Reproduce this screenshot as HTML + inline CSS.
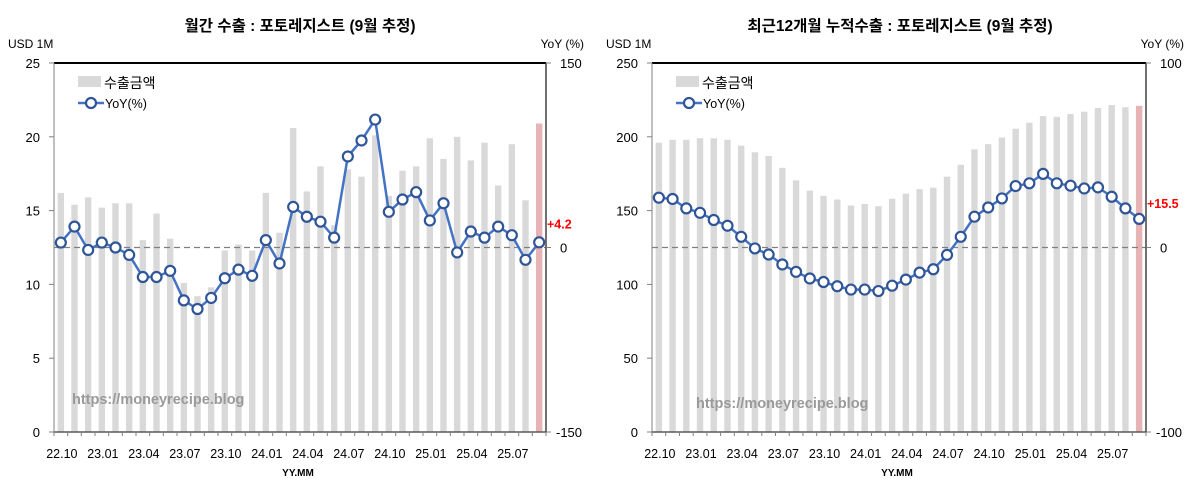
<!DOCTYPE html>
<html><head><meta charset="utf-8">
<style>
body{margin:0;background:#fff;}
svg text{font-family:"Liberation Sans","Noto Sans CJK KR",sans-serif;}
</style></head>
<body>
<svg id="chart" width="1200" height="499" viewBox="0 0 1200 499" xmlns="http://www.w3.org/2000/svg"></svg>
<script>
const months = ["22.10","22.11","22.12","23.01","23.02","23.03","23.04","23.05","23.06","23.07","23.08","23.09","23.10","23.11","23.12","24.01","24.02","24.03","24.04","24.05","24.06","24.07","24.08","24.09","24.10","24.11","24.12","25.01","25.02","25.03","25.04","25.05","25.06","25.07","25.08","25.09"];
const xTickLabels = ["22.10","23.01","23.04","23.07","23.10","24.01","24.04","24.07","24.10","25.01","25.04","25.07"];
const monthlyExport = [16.2,15.4,15.9,15.2,15.5,15.5,13.0,14.8,13.1,10.1,9.2,9.8,12.3,12.7,12.3,16.2,13.5,20.6,16.3,18.0,14.0,17.8,17.3,20.1,16.0,17.7,18.0,19.9,18.5,20.0,18.4,19.6,16.7,19.5,15.7,20.9];
const monthlyYoY = [4,17,-2,4,0,-6,-24,-24,-19,-43,-50,-41,-25,-18,-23,6,-13,33,25,21,8,74,87,104,29,39,45,22,36,-4,13,8,17,10,-10,4.2];
const cumExport = [196,198,198,199,199,198,194,189.5,187,179,170.5,163.5,160,157.5,153.5,154.5,153,158,161.5,164.5,165.5,173,181,191.5,195,199.5,205.5,209.5,214,213.5,215.5,217,219.5,221.5,220,221];
const cumYoY = [27,26.3,21.2,18.8,14.9,11.8,5.8,-0.5,-3.8,-9.2,-13.2,-16.8,-18.7,-21,-22.8,-22.8,-23.6,-20.7,-17.4,-13.6,-11.8,-4,5.8,16.7,21.7,26.6,33.3,34.8,39.9,34.8,33.5,32,32.6,27.5,21.2,15.5];
const leftTicksA = [0,5,10,15,20,25];
const rightTicksA = [-150,0,150];
const leftTicksB = [0,50,100,150,200,250];
const rightTicksB = [-100,0,100];

const svg = document.getElementById('chart');
const NS = 'http://www.w3.org/2000/svg';
function mk(tag, attrs, parent, text){
  const e = document.createElementNS(NS, tag);
  for (const k in attrs) e.setAttribute(k, attrs[k]);
  if (text !== undefined) e.textContent = text;
  (parent||svg).appendChild(e);
  return e;
}

function drawChart(o){
  const g = mk('g', {});
  
  
  const L=o.x0, R=o.x1, T=63, B=432;
  const n = months.length, slot=(R-L)/n;
  const xs = i => L + slot*(i+0.5);
  const yL = v => B - (v - o.lmin)/(o.lmax-o.lmin)*(B-T);
  const yR = v => B - (v - o.rmin)/(o.rmax-o.rmin)*(B-T);

  const t = mk('text',{x:o.titleX,y:31,'text-anchor':'middle','font-size':15.5,'font-weight':'bold',fill:'#000'},g,o.title);
   
  const u = mk('text',{x:L-46,y:48,'font-size':12,fill:'#000'},g,'USD 1M');
   
  const yy = mk('text',{x:R+38,y:48,'text-anchor':'end','font-size':12,fill:'#000'},g,'YoY (%)');
   

  // bars
  o.bars.forEach((v,i)=>{
    const b = mk('rect',{x:xs(i)-3.2,y:yL(v),width:6.4,height:B-yL(v),fill:i===n-1?'#e6b4b4':'#d9d9d9'},g);
    
    
  });
  // watermark
  const w = mk('text',{x:o.wmX,y:o.wmY,'font-size':14.5,'font-weight':'bold',fill:'#9a9a9a'},g,'https://moneyrecipe.blog');
   
  // zero line
  const z = mk('line',{x1:L,x2:R,y1:yR(0),y2:yR(0),stroke:'#7f7f7f','stroke-width':1.3,'stroke-dasharray':'6,4'},g);
   
  // frame
  mk('line',{x1:L,x2:R,y1:T,y2:T,stroke:'#000','stroke-width':2},g);
  mk('line',{x1:L,x2:R,y1:B,y2:B,stroke:'#595959','stroke-width':1.5},g);
  mk('line',{x1:L,x2:L,y1:T,y2:B,stroke:'#808080','stroke-width':1},g);
  mk('line',{x1:R,x2:R,y1:T,y2:B,stroke:'#404040','stroke-width':1.5},g);
  for(let i=0;i<=n;i++) mk('line',{x1:L+slot*i,x2:L+slot*i,y1:B,y2:B+4,stroke:'#808080','stroke-width':1},g);
  // ticks
  o.lt.forEach(v=>{
    mk('line',{x1:L-5,x2:L,y1:yL(v),y2:yL(v),stroke:'#808080'},g);
    const e = mk('text',{x:L-14,y:yL(v)+5,'text-anchor':'end','font-size':13,fill:'#000'},g,String(v));
     
  });
  o.rt.forEach(v=>{
    mk('line',{x1:R,x2:R+5,y1:yR(v),y2:yR(v),stroke:'#808080'},g);
    const e = mk('text',{x:R+(v<0?10:14),y:yR(v)+5,'font-size':13,fill:'#000'},g,String(v));
     
  });
  xTickLabels.forEach(lab=>{
    const i = months.indexOf(lab);
    const e = mk('text',{x:xs(i)+1,y:458,'text-anchor':'middle','font-size':12.5,fill:'#000'},g,lab);
     
  });
  const xt = mk('text',{x:(L+R)/2-2,y:476,'text-anchor':'middle','font-size':10,'font-weight':'bold',fill:'#000'},g,'YY.MM');
   
  // line
  const pts = o.yoy.map((v,i)=>xs(i)+','+yR(v)).join(' ');
  const pl = mk('polyline',{points:pts,fill:'none',stroke:'#4472c4','stroke-width':2.5},g);
   
  o.yoy.forEach((v,i)=>{
    const c = mk('circle',{cx:xs(i),cy:yR(v),r:5,fill:'#fff',stroke:'#2f5597','stroke-width':2.2},g);
    
    
  });
  const last = o.yoy[n-1];
  const lv = mk('text',{x:R+1,y:yR(last)-o.lblOff,'font-size':12.5,'font-weight':'bold',fill:'#ff0000'},g,'+'+last);
   
  // legend
  const lg = mk('g',{},g);
   
  mk('rect',{x:L+24,y:76,width:23,height:11,fill:'#d9d9d9'},lg);
  mk('text',{x:L+50,y:88,'font-size':14,fill:'#000'},lg,'수출금액');
  mk('line',{x1:L+24,x2:L+50,y1:103,y2:103,stroke:'#4472c4','stroke-width':2.5},lg);
  mk('circle',{cx:L+37,cy:103,r:5,fill:'#fff',stroke:'#2f5597','stroke-width':2.2},lg);
  mk('text',{x:L+51,y:108,'font-size':12.5,fill:'#000'},lg,'YoY(%)');
}

drawChart({name:'monthly-export-chart',x0:54,x1:546,lmin:0,lmax:25,rmin:-150,rmax:150,bars:monthlyExport,yoy:monthlyYoY,lt:leftTicksA,rt:rightTicksA,title:'월간 수출 : 포토레지스트 (9월 추정)',titleX:300,wmX:72,wmY:404,lblOff:14});
drawChart({name:'cumulative-export-chart',x0:652,x1:1146,lmin:0,lmax:250,rmin:-100,rmax:100,bars:cumExport,yoy:cumYoY,lt:leftTicksB,rt:rightTicksB,title:'최근12개월 누적수출 : 포토레지스트 (9월 추정)',titleX:900,wmX:696,wmY:408,lblOff:11});
</script>
</body></html>
